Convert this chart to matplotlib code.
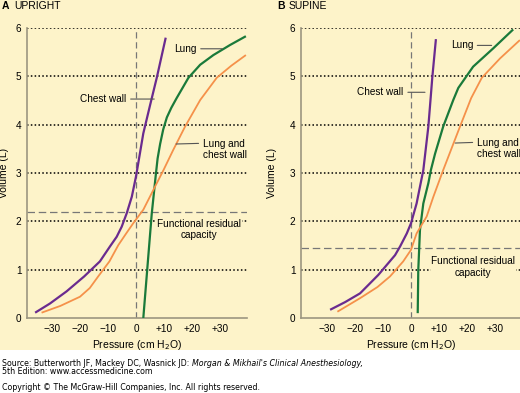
import matplotlib.pyplot as plt
from matplotlib.patches import Rectangle

plt.rcParams['font.family'] = ['Liberation Sans', 'DejaVu Sans']

# upright (panel A): pressure (cm H2O) vs volume (L)
up_chest_p = [-36, -30.7, -24.8, -18.5, -12.9, -9.3, -6.9, -5.1, -3.3, -1.5, 0, 2.6, 5.0, 7.4, 10.6]
up_chest_v = [0.11, 0.30, 0.55, 0.86, 1.17, 1.48, 1.68, 1.89, 2.17, 2.51, 2.93, 3.82, 4.4, 4.97, 5.80]
up_lung_p = [2.6, 5.6, 7.0, 7.7, 8.6, 9.7, 11.0, 12.6, 14.5, 18.7, 22.9, 27.6, 33.6, 39.2]
up_lung_v = [0.0, 2.15, 2.93, 3.3, 3.6, 3.9, 4.15, 4.35, 4.55, 4.97, 5.24, 5.44, 5.65, 5.83]
up_both_p = [-33.7, -27, -20, -16.5, -13.5, -9.5, -6.3, -3.5, -1, 2.6, 6.8, 9.8, 13.3, 17.5, 22.9, 28.8, 34, 39.2]
up_both_v = [0.11, 0.25, 0.44, 0.62, 0.86, 1.17, 1.51, 1.75, 1.96, 2.24, 2.72, 3.06, 3.48, 3.96, 4.51, 4.97, 5.22, 5.44]
up_frc = 2.2

# supine (panel B)
su_chest_p = [-28.9, -23.5, -18.2, -11.7, -5.7, -3.9, -1.5, 0, 2.0, 4.4, 6.2, 7.6, 8.9]
su_chest_v = [0.17, 0.33, 0.51, 0.89, 1.3, 1.48, 1.75, 1.96, 2.37, 3.06, 3.96, 4.97, 5.77]
su_lung_p = [2.4, 2.6, 3.2, 4.4, 6.2, 7.1, 8.6, 11.5, 15.1, 16.9, 22.2, 29.4, 36.5]
su_lung_v = [0.1, 0.99, 1.82, 2.37, 2.79, 3.06, 3.4, 3.96, 4.51, 4.76, 5.2, 5.58, 5.97]
su_both_p = [-26.3, -18.2, -12, -7.5, -2.8, 0, 2.0, 5.6, 8.0, 11.5, 17.5, 21.5, 25.3, 31.8, 38.9]
su_both_v = [0.13, 0.41, 0.64, 0.86, 1.17, 1.41, 1.75, 2.1, 2.51, 3.06, 3.96, 4.55, 4.97, 5.37, 5.75]
su_frc = 1.45

xticks = [-30, -20, -10, 0, 10, 20, 30]
xticklabels = ['\u221230', '\u221220', '\u221210', '0', '+10', '+20', '+30']
yticks = [0, 1, 2, 3, 4, 5, 6]

yellow = '#fdf3c9'
purple = '#6a2b8f'
green = '#1a7a3a'
orange = '#f5914a'
spine_c = '#9c9680'
fs = 7.2

fig = plt.figure(figsize=(5.2, 3.93), dpi=100)
fig.patches.append(Rectangle((0, 1 - 350 / 393), 1, 350 / 393, transform=fig.transFigure,
                             facecolor=yellow, edgecolor='none', zorder=-10))


def panel(left, xlim, chest, lung, both, frc, labels):
    ax = fig.add_axes([left, 1 - 318 / 393, 220 / 520, 290 / 393])
    ax.set_facecolor('none')
    ax.set_xlim(*xlim)
    ax.set_ylim(0, 6)
    for s in ['top', 'right']:
        ax.spines[s].set_visible(False)
    for s in ['left', 'bottom']:
        ax.spines[s].set_color(spine_c)
        ax.spines[s].set_linewidth(1.2)
    ax.set_xticks(xticks)
    ax.set_xticklabels(xticklabels)
    ax.set_yticks(yticks)
    ax.tick_params(length=0, labelsize=fs, pad=4)
    for v in yticks[1:]:
        ax.axhline(v, color='black', ls=(0, (1, 1.5)), lw=1.1, zorder=1)
    ax.axvline(0, color='#777777', ls=(0, (5, 3)), lw=0.9, zorder=1)
    ax.axhline(frc, color='#777777', ls=(0, (6, 3)), lw=0.9, zorder=1)
    kw = dict(zorder=3, solid_joinstyle='round', solid_capstyle='butt')
    ax.plot(chest[0], chest[1], color=purple, lw=1.6, **kw)
    ax.plot(lung[0], lung[1], color=green, lw=1.6, **kw)
    ax.plot(both[0], both[1], color=orange, lw=1.3, **kw)
    ax.set_xlabel('Pressure (cm H$_2$O)', fontsize=fs + 0.3, labelpad=3)
    ax.set_ylabel('Volume (L)', fontsize=fs + 0.3, labelpad=2)
    lp = dict(arrowstyle='-', color='#555555', lw=0.8, shrinkA=1, shrinkB=0)
    for txt, xy, xyt, ha, rel in labels[:3]:
        ax.annotate(txt, xy=xy, xytext=xyt, ha=ha, va='center', fontsize=fs,
                    arrowprops=dict(lp, relpos=rel), zorder=4)
    txt, xyt = labels[3]
    ax.text(xyt[0], xyt[1], txt, ha='center', va='center', fontsize=fs, zorder=4,
            bbox=dict(facecolor=yellow, edgecolor='none', pad=0.5))
    return ax


axA = panel(27 / 520, (-38.9, 39.6),
            (up_chest_p, up_chest_v), (up_lung_p, up_lung_v), (up_both_p, up_both_v), up_frc,
            [('Lung', (30.8, 5.57), (21.6, 5.57), 'right', (1, 0.5)),
             ('Chest wall', (6.5, 4.53), (-3.4, 4.53), 'right', (1, 0.5)),
             ('Lung and\nchest wall', (14.3, 3.6), (23.8, 3.49), 'left', (0, 0.78)),
             ('Functional residual\ncapacity', (22.5, 1.83))])
axA.yaxis.set_label_coords(-0.08, 0.5)

axB = panel(301 / 520, (-39.3, 39.3),
            (su_chest_p, su_chest_v), (su_lung_p, su_lung_v), (su_both_p, su_both_v), su_frc,
            [('Lung', (28.8, 5.64), (22.2, 5.64), 'right', (1, 0.5)),
             ('Chest wall', (5.0, 4.67), (-2.6, 4.67), 'right', (1, 0.5)),
             ('Lung and\nchest wall', (15.8, 3.62), (23.5, 3.51), 'left', (0, 0.78)),
             ('Functional residual\ncapacity', (22.3, 1.06))])
axB.yaxis.set_label_coords(-0.108, 0.5)

for x, letter, name in [(2, 'A', 'UPRIGHT'), (277, 'B', 'SUPINE')]:
    fig.text(x / 520, 1 - 6 / 393, letter, fontsize=fs + 0.3, fontweight='bold', va='center')
    fig.text((x + 12) / 520, 1 - 6 / 393, name, fontsize=fs + 0.3, va='center')

# source lines
sfs = 5.7
src = fig.text(2 / 520, 1 - 363 / 393, 'Source: Butterworth JF, Mackey DC, Wasnick JD: ',
               fontsize=sfs, family='DejaVu Sans', va='center')
fig.canvas.draw()
bb = src.get_window_extent()
fig.text(bb.x1 / 520, 1 - 363 / 393, "Morgan & Mikhail's Clinical Anesthesiology,",
         fontsize=sfs, family='DejaVu Sans', style='italic', va='center')
fig.text(2 / 520, 1 - 371 / 393, '5th Edition: www.accessmedicine.com',
         fontsize=sfs, family='DejaVu Sans', va='center')
fig.text(2 / 520, 1 - 387 / 393, 'Copyright \u00a9 The McGraw-Hill Companies, Inc. All rights reserved.',
         fontsize=sfs, family='DejaVu Sans', va='center')

fig.savefig('out.png', dpi=100)
